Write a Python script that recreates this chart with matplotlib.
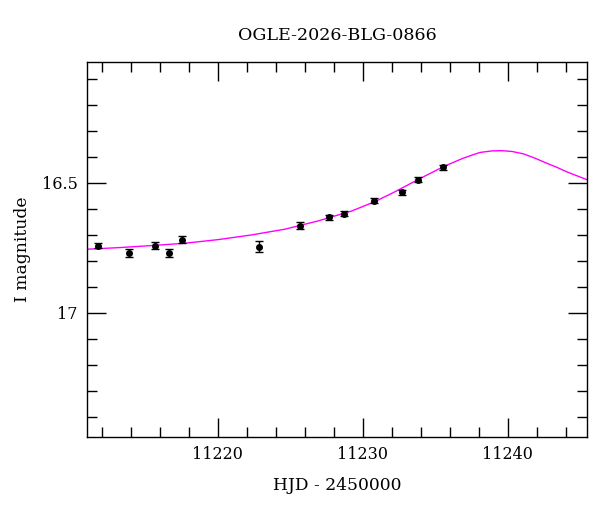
import matplotlib
matplotlib.use("Agg")
import matplotlib.pyplot as plt
from matplotlib.ticker import MultipleLocator, FuncFormatter

# Observations
hjd = [11211.73, 11213.90, 11215.68, 11216.66, 11217.54, 11222.87,
       11225.70, 11227.65, 11228.73, 11230.80, 11232.69, 11233.79, 11235.52]
mag = [16.741, 16.770, 16.741, 16.770, 16.719, 16.745,
       16.664, 16.633, 16.619, 16.568, 16.536, 16.487, 16.440]
err = [0.011, 0.014, 0.012, 0.014, 0.013, 0.020,
       0.013, 0.010, 0.010, 0.009, 0.009, 0.009, 0.009]

# Model curve
model_t = [11211.0, 11213.14, 11215.45, 11217.74, 11220.04, 11222.34, 11224.64,
           11226.94, 11229.24, 11230.85, 11232.3, 11233.79, 11235.49, 11236.3,
           11236.94, 11237.5, 11238.09, 11238.9, 11239.59, 11240.3, 11241.08,
           11241.9, 11242.69, 11243.4, 11244.07, 11244.8, 11245.5]
model_m = [16.755, 16.749, 16.741, 16.732, 16.718, 16.700, 16.678,
           16.646, 16.608, 16.572, 16.532, 16.488, 16.440, 16.420,
           16.405, 16.394, 16.383, 16.377, 16.376, 16.379, 16.388,
           16.405, 16.424, 16.440, 16.457, 16.473, 16.488]

title = "OGLE-2026-BLG-0866"
xlabel = "HJD - 2450000"
ylabel = "I magnitude"

plt.rcParams['font.family'] = ['DejaVu Serif']
fig = plt.figure(figsize=(6.0, 5.12), dpi=100)
ax = fig.add_axes([0.1455, 0.1471, 0.8333, 0.7318])

ax.plot(model_t, model_m, color='#ff00ff', lw=1.0, zorder=2)
ax.errorbar(hjd, mag, yerr=err, fmt='o', color='black', ms=4, capsize=3,
            elinewidth=1, capthick=1, zorder=3)

ax.set_xlim(11211.0, 11245.5)
ax.set_ylim(17.476, 16.035)

ax.xaxis.set_major_locator(MultipleLocator(10))
ax.xaxis.set_minor_locator(MultipleLocator(2))
ax.yaxis.set_major_locator(MultipleLocator(0.5))
ax.yaxis.set_minor_locator(MultipleLocator(0.1))
ax.yaxis.set_major_formatter(FuncFormatter(lambda v, p: f"{v:g}"))

ax.tick_params(which='both', direction='in', top=True, right=True, width=1,
               labelsize=11.5)
ax.tick_params(which='major', length=13.5, pad=7)
ax.tick_params(which='minor', length=7)
for s in ax.spines.values():
    s.set_linewidth(1)

ax.set_title(title, fontsize=12.6, pad=16)
ax.set_xlabel(xlabel, fontsize=12.3, labelpad=10)
ax.set_ylabel(ylabel, fontsize=12.3, labelpad=8)

fig.savefig("out.png", dpi=100)
